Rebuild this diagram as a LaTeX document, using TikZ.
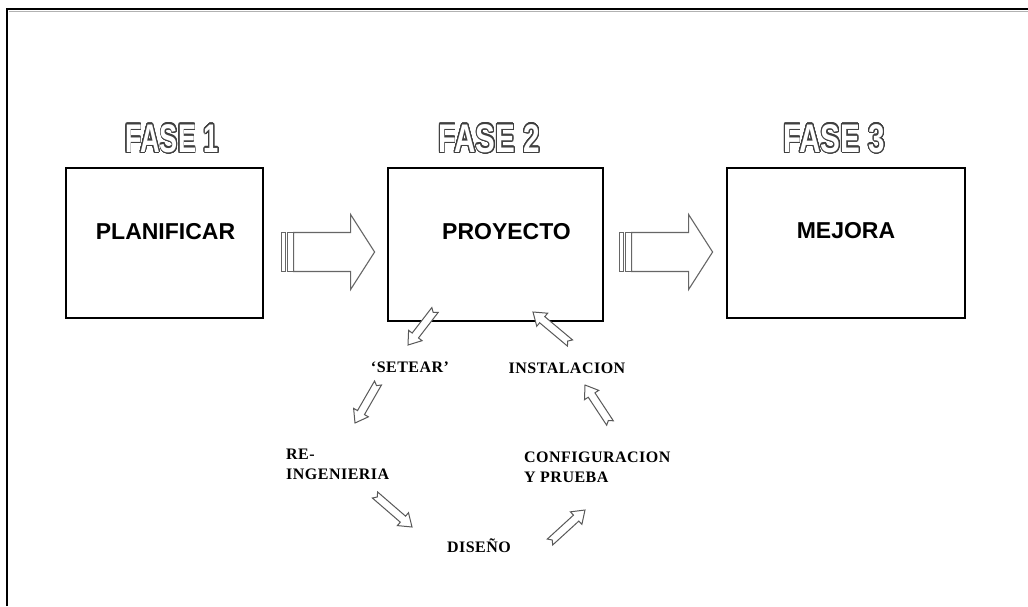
\documentclass[tikz,border=0pt]{standalone}
\usepackage{fontspec}
\setmainfont{Liberation Serif}[LetterSpace=3]
\newfontfamily\headfont{Liberation Sans}
\usepackage{contour}
\contourlength{1.2pt}
\contournumber{32}
\usetikzlibrary{calc}

% hollow step arrow from tail coordinate #1 to tip coordinate #2
\newcommand\minarrow[2]{%
  \draw[minline] ($(#1)!3pt!(#2)$)
    -- ($(#1)!4pt!90:(#2)$)
    -- ($(#2)!12pt!(#1)!4pt!-90:(#1)$)
    -- ($(#2)!12pt!(#1)!8.5pt!-90:(#1)$)
    -- (#2)
    -- ($(#2)!12pt!(#1)!8.5pt!90:(#1)$)
    -- ($(#2)!12pt!(#1)!4pt!90:(#1)$)
    -- ($(#1)!4pt!-90:(#2)$)
    -- cycle;}

% outlined title lettering
\newcommand\outlined[1]{\contour{black!75}{\textcolor{white}{#1}}}

\tikzset{
  phasebox/.style={draw=black, line width=1.2pt, fill=white, inner sep=0pt},
  boxtext/.style={font=\headfont\bfseries\fontsize{23}{26}\selectfont},
  phasetitle/.style={font=\headfont\bfseries\fontsize{40}{44}\selectfont, inner sep=0pt},
  steptext/.style={font=\bfseries\fontsize{16}{20}\selectfont, inner sep=0pt},
  bigline/.style={draw=black!60, line width=1.1pt, fill=white, line join=miter},
  minline/.style={draw=black!65, line width=1pt, fill=white, line join=miter},
  bigarrow/.pic={
    \draw[bigline] (0,-19.5) rectangle (4,19.5);
    \draw[bigline] (6,-19.5) rectangle (12,19.5);
    \draw[bigline] (12,-19.5) -- (69,-19.5) -- (69,-37.5) -- (93,0)
      -- (69,37.5) -- (69,19.5) -- (12,19.5) -- cycle;
  }
}

\begin{document}
\begin{tikzpicture}[x=1pt, y=-1pt]
  \useasboundingbox (0,0) rectangle (1028,606);
  \fill[white] (0,0) rectangle (1028,606);

  % page frame
  \draw[black!30, line width=1pt] (9,11) -- (1028,11);
  \draw[line width=1.5pt] (7,606) -- (7,9) -- (1028,9);

  % phase titles
  \node[phasetitle] (f1) at (172,139) {\scalebox{0.68}[1]{\outlined{FASE 1}}};
  \node[phasetitle] (f2) at (489,139) {\scalebox{0.74}[1]{\outlined{FASE 2}}};
  \node[phasetitle] (f3) at (834,139) {\scalebox{0.74}[1]{\outlined{FASE 3}}};

  % phase boxes
  \node[phasebox, minimum width=197pt, minimum height=150pt] (p1) at (164.5,243) {};
  \node[phasebox, minimum width=215pt, minimum height=153pt] (p2) at (495.5,244.5) {};
  \node[phasebox, minimum width=238pt, minimum height=150pt] (p3) at (846,243) {};

  \node[boxtext] (t1) at ($(p1.center)+(1,-11)$) {PLANIFICAR};
  \node[boxtext] (t2) at ($(p2.center)+(11,-12.5)$) {PROYECTO};
  \node[boxtext] (t3) at ($(p3.center)+(0,-12)$) {MEJORA};

  % arrows between phases
  \pic at ($(p1.east)+(18,9)$) {bigarrow};
  \pic at ($(p2.east)+(16,7.5)$) {bigarrow};

  % project cycle labels
  \node[steptext] (setear) at (410,367) {‘SETEAR’};
  \node[steptext] (instal) at (567,368) {INSTALACION};
  \node[steptext, anchor=west, align=left] (reing) at (286,464) {RE-\\INGENIERIA};
  \node[steptext, anchor=west, align=left] (config) at (524,467) {CONFIGURACION\\Y PRUEBA};
  \node[steptext] (diseno) at (479,546) {DISEÑO};

  % arrow end points of the cycle
  \coordinate (a1s) at (435,310); \coordinate (a1e) at (408,345);
  \coordinate (a2s) at (378,383); \coordinate (a2e) at (355,423);
  \coordinate (a3s) at (375,495); \coordinate (a3e) at (412,527);
  \coordinate (a4s) at (550,542); \coordinate (a4e) at (585,510);
  \coordinate (a5s) at (610,423); \coordinate (a5e) at (585,385);
  \coordinate (a6s) at (570,343); \coordinate (a6e) at (533,312);

  \minarrow{a1s}{a1e}
  \minarrow{a2s}{a2e}
  \minarrow{a3s}{a3e}
  \minarrow{a4s}{a4e}
  \minarrow{a5s}{a5e}
  \minarrow{a6s}{a6e}
\end{tikzpicture}
\end{document}
